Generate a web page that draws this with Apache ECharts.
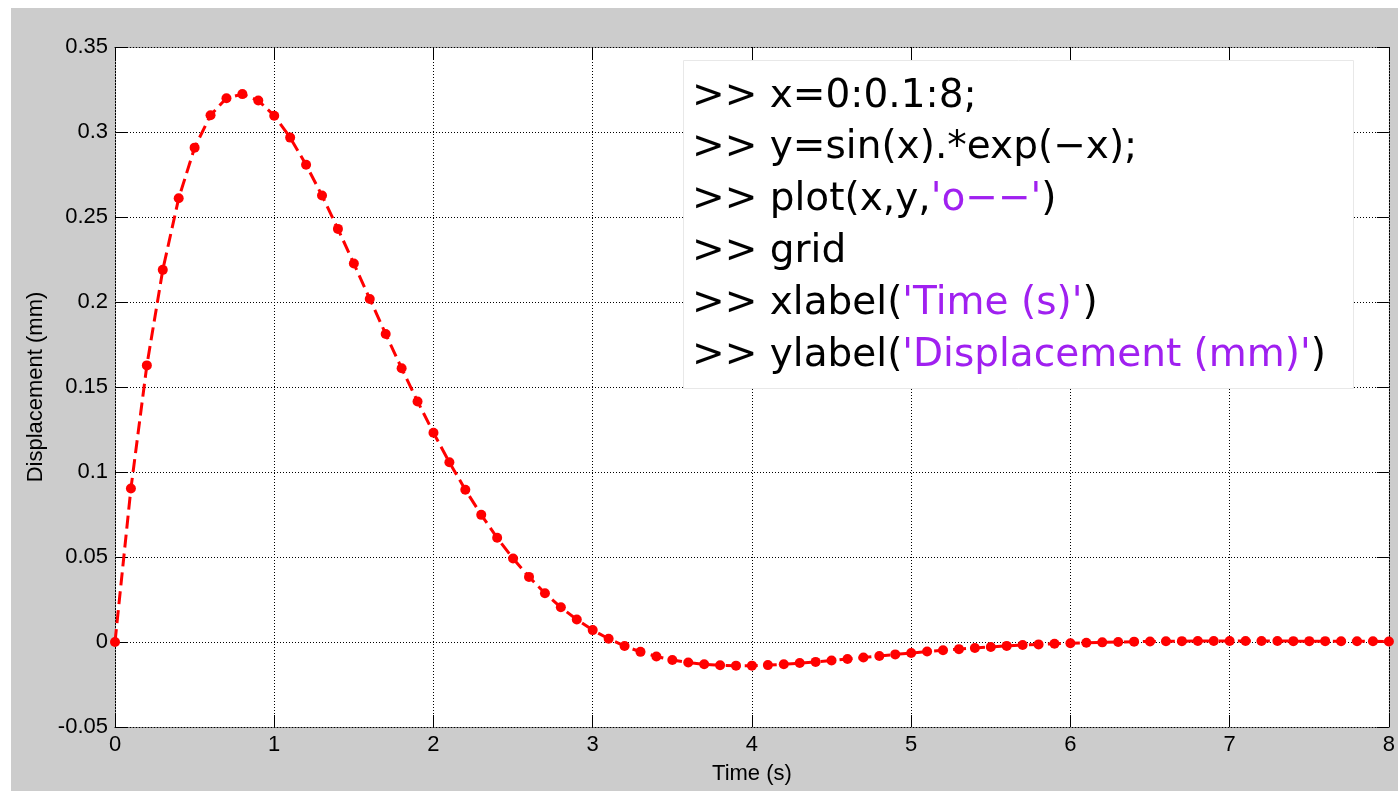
<!DOCTYPE html>
<html>
<head>
<meta charset="utf-8">
<script src="https://cdn.jsdelivr.net/npm/echarts@6/dist/echarts.min.js"></script>
<style>
html,body{margin:0;padding:0;background:#fff;}
#chart{width:1398px;height:791px;}
</style>
</head>
<body>
<div id="chart"></div>
<script>
// ---- data ----
var xValues = [0,0.1,0.2,0.3,0.4,0.5,0.6,0.7,0.8,0.9,1,1.1,1.2,1.3,1.4,1.5,1.6,1.7,1.8,1.9,2,2.1,2.2,2.3,2.4,2.5,2.6,2.7,2.8,2.9,3,3.1,3.2,3.3,3.4,3.5,3.6,3.7,3.8,3.9,4,4.1,4.2,4.3,4.4,4.5,4.6,4.7,4.8,4.9,5,5.1,5.2,5.3,5.4,5.5,5.6,5.7,5.8,5.9,6,6.1,6.2,6.3,6.4,6.5,6.6,6.7,6.8,6.9,7,7.1,7.2,7.3,7.4,7.5,7.6,7.7,7.8,7.9,8];
var displacement = [0,0.0903,0.1627,0.2189,0.2610,0.2908,0.3099,0.3199,0.3223,0.3185,0.3096,0.2967,0.2807,0.2626,0.2430,0.2226,0.2018,0.1812,0.1610,0.1415,0.1231,0.1057,0.0896,0.0748,0.0613,0.0491,0.0383,0.0287,0.0204,0.0132,0.0070,0.0019,-0.0024,-0.0058,-0.0085,-0.0106,-0.0121,-0.0131,-0.0137,-0.0139,-0.0139,-0.0136,-0.0131,-0.0124,-0.0117,-0.0109,-0.0100,-0.0091,-0.0082,-0.0073,-0.0065,-0.0056,-0.0049,-0.0042,-0.0035,-0.0029,-0.0023,-0.0018,-0.0014,-0.0010,-0.0007,-0.0004,-0.0002,0.0000,0.0002,0.0003,0.0004,0.0005,0.0006,0.0006,0.0006,0.0006,0.0006,0.0006,0.0005,0.0005,0.0005,0.0004,0.0004,0.0004,0.0003];
var xTickLabels = ['0','1','2','3','4','5','6','7','8'];
var yTickLabels = ['-0.05','0','0.05','0.1','0.15','0.2','0.25','0.3','0.35'];
var xAxisTitle = 'Time (s)';
var yAxisTitle = 'Displacement (mm)';
// code box lines: [black, purple, black]
var codeLines = [
  ['>> x=0:0.1:8;', '', ''],
  ['>> y=sin(x).*exp(\u2212x);', '', ''],
  ['>> plot(x,y,', '\'o\u2212\u2212\'', ')'],
  ['>> grid', '', ''],
  ['>> xlabel(', '\'Time (s)\'', ')'],
  ['>> ylabel(', '\'Displacement (mm)\'', ')']
];

var seriesData = xValues.map(function (x, i) { return [x, displacement[i]]; });

var chart = echarts.init(document.getElementById('chart'), null, {renderer: 'canvas'});
var tickFont = 'Liberation Sans, Arial, Helvetica, sans-serif';
var dotted = {color: '#000', width: 1, type: [1, 2]};

var codeGraphics = [];
var lineCenters = [99, 150, 202, 254, 306, 358];
var codeFontSize = 39;
codeLines.forEach(function (seg, i) {
  var t = '{k|' + seg[0] + '}';
  if (seg[1]) t += '{s|' + seg[1] + '}';
  if (seg[2]) t += '{k|' + seg[2] + '}';
  codeGraphics.push({
    type: 'text', left: 692, top: lineCenters[i] - 22, z: 20,
    style: {
      text: t,
      rich: {
        k: {fill: '#000', fontSize: codeFontSize, fontFamily: 'DejaVu Sans', lineHeight: 44},
        s: {fill: '#A020F0', fontSize: codeFontSize, fontFamily: 'DejaVu Sans', lineHeight: 44}
      }
    }
  });
});

var option = {
  animation: false,
  backgroundColor: 'transparent',
  graphic: [
    {type: 'rect', left: 11, top: 8, shape: {width: 1387, height: 783}, style: {fill: '#CCCCCC'}, z: -10, silent: true},
    {type: 'rect', left: 683, top: 60, shape: {width: 670, height: 328}, style: {fill: '#fff', stroke: '#e8e8e8', lineWidth: 1}, z: 15, silent: true}
  ].concat(codeGraphics),
  grid: {left: 115, top: 47, right: 7, bottom: 64, show: true, backgroundColor: '#fff', borderWidth: 0, containLabel: false},
  xAxis: [{
    type: 'value', min: 0, max: 8, interval: 1, position: 'bottom',
    name: xAxisTitle, nameLocation: 'middle', nameGap: 36,
    nameTextStyle: {fontSize: 22, color: '#000', fontFamily: tickFont},
    axisLine: {show: true, onZero: false, lineStyle: dotted},
    axisTick: {show: true, inside: true, length: 12, lineStyle: {color: '#000', width: 1}},
    axisLabel: {fontSize: 22, color: '#000', fontFamily: tickFont, margin: 7,
      formatter: function (v) { return xTickLabels[Math.round(v)]; }},
    splitLine: {show: true, lineStyle: dotted}
  }, {
    type: 'value', min: 0, max: 8, interval: 1, position: 'top',
    axisLine: {show: true, onZero: false, lineStyle: dotted},
    axisTick: {show: true, inside: true, length: 12, lineStyle: {color: '#000', width: 1}},
    axisLabel: {show: false}, splitLine: {show: false}
  }],
  yAxis: [{
    type: 'value', min: -0.05, max: 0.35, interval: 0.05, position: 'left',
    name: yAxisTitle, nameLocation: 'middle', nameGap: 60, nameRotate: 90,
    nameTextStyle: {fontSize: 22, color: '#000', fontFamily: tickFont},
    axisLine: {show: true, onZero: false, lineStyle: dotted},
    axisTick: {show: true, inside: true, length: 12, lineStyle: {color: '#000', width: 1}},
    axisLabel: {fontSize: 22, color: '#000', fontFamily: tickFont, margin: 7,
      formatter: function (v) { return yTickLabels[Math.round((v + 0.05) / 0.05)]; }},
    splitLine: {show: true, lineStyle: dotted}
  }, {
    type: 'value', min: -0.05, max: 0.35, interval: 0.05, position: 'right',
    axisLine: {show: true, onZero: false, lineStyle: dotted},
    axisTick: {show: true, inside: true, length: 12, lineStyle: {color: '#000', width: 1}},
    axisLabel: {show: false}, splitLine: {show: false}
  }],
  series: [{
    type: 'line', xAxisIndex: 0, yAxisIndex: 0, data: seriesData,
    symbol: 'circle', symbolSize: 10, showAllSymbol: true, clip: false,
    itemStyle: {color: '#FF0000'},
    lineStyle: {color: '#FF0000', width: 3, type: [13, 6]},
    z: 5
  }]
};
chart.setOption(option);
</script>
</body>
</html>
